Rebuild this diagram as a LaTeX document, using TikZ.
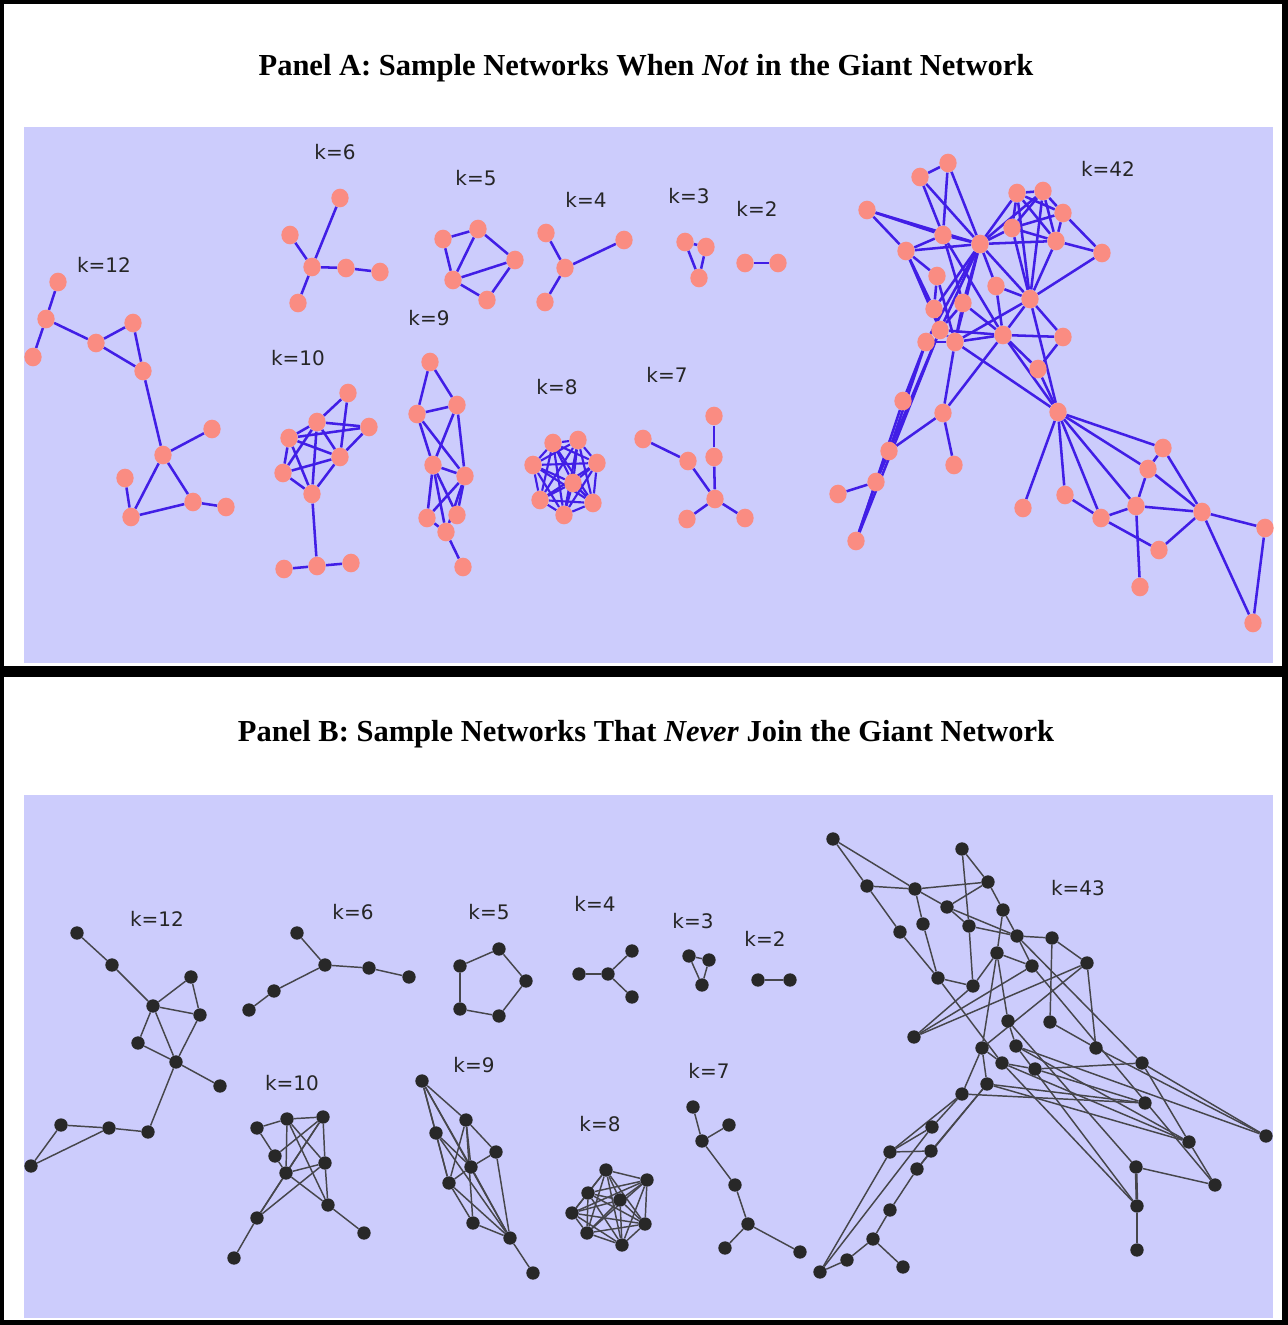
\documentclass[tikz,border=0pt]{standalone}
\usepackage{fontspec}
\setmainfont{Liberation Serif}
\newfontfamily\labfont{DejaVu Sans}
\usetikzlibrary{shapes.geometric}
\definecolor{lav}{RGB}{204,204,252}
\definecolor{nodeA}{RGB}{250,140,130}
\definecolor{edgeA}{RGB}{65,30,230}
\definecolor{nodeB}{RGB}{40,40,40}
\definecolor{edgeB}{RGB}{70,70,75}
\pgfdeclarelayer{bg}
\pgfdeclarelayer{edges}
\pgfsetlayers{bg,edges,main}
\tikzset{
  pa/.style={ellipse,fill=nodeA,inner sep=0,minimum width=13pt,minimum height=14pt},
  pb/.style={circle,fill=nodeB,inner sep=0,minimum size=10pt},
  ea/.style={draw=edgeA,line width=1.9pt},
  eb/.style={draw=edgeB,line width=1.1pt},
  klab/.style={font=\labfont\fontsize{15}{18}\selectfont,inner sep=0,text=black!85},
  ttl/.style={inner sep=0}
}
\begin{document}
\begin{tikzpicture}[x=0.75pt,y=-0.75pt]
\begin{pgfonlayer}{bg}
\fill[black] (0,0) rectangle (1288,1325);
\fill[white] (4,4) rectangle (1282,666);
\fill[white] (4,677) rectangle (1282,1320);
\fill[lav] (24,127) rectangle (1273,663);
\fill[lav] (24,795) rectangle (1273,1318);
\end{pgfonlayer}
\useasboundingbox (0,0) rectangle (1288,1325);

% titles
\node[ttl] (tA) at (646,68) {\resizebox{581pt}{!}{\bfseries Panel A: Sample Networks When \textit{Not} in the Giant Network}};
\node[ttl] (tB) at (646,734) {\resizebox{612pt}{!}{\bfseries Panel B: Sample Networks That \textit{Never} Join the Giant Network}};

% ---------------- Panel A ----------------
\node[klab] (lA12) at (104,265) {k=12};
\node[klab] (lA6) at (335,152) {k=6};
\node[klab] (lA5) at (476,178) {k=5};
\node[klab] (lA4) at (586,200) {k=4};
\node[klab] (lA3) at (689,196) {k=3};
\node[klab] (lA2) at (757,209) {k=2};
\node[klab] (lA10) at (298,358) {k=10};
\node[klab] (lA9) at (429,318) {k=9};
\node[klab] (lA8) at (557,387) {k=8};
\node[klab] (lA7) at (667,375) {k=7};
\node[klab] (lA42) at (1108,169) {k=42};

% k=12
\foreach \n/\x/\y in {a1/58/282,a2/46/319,a3/33/357,a4/96/343,a5/133/323,a6/143/371,a7/163/455,a8/212/429,a9/125/478,a10/131/517,a11/193/502,a12/226/507}
  \node[pa] (\n) at (\x,\y) {};
% k=6
\foreach \n/\x/\y in {b1/340/198,b2/290/235,b3/312/267,b4/346/268,b5/380/272,b6/298/303}
  \node[pa] (\n) at (\x,\y) {};
% k=5
\foreach \n/\x/\y in {c1/443/239,c2/478/229,c3/515/260,c4/453/280,c5/487/300}
  \node[pa] (\n) at (\x,\y) {};
% k=4
\foreach \n/\x/\y in {d1/546/233,d2/565/268,d3/624/240,d4/545/302}
  \node[pa] (\n) at (\x,\y) {};
% k=3, k=2
\foreach \n/\x/\y in {e1/685/242,e2/706/247,e3/699/278,f1/745/263,f2/778/263}
  \node[pa] (\n) at (\x,\y) {};
% k=10
\foreach \n/\x/\y in {g1/348/393,g2/317/422,g3/369/427,g4/289/438,g5/340/457,g6/283/473,g7/312/494,g8/284/569,g9/317/566,g10/351/563}
  \node[pa] (\n) at (\x,\y) {};
% k=9
\foreach \n/\x/\y in {h1/430/362,h2/417/414,h3/457/405,h4/433/465,h5/465/476,h6/427/518,h7/457/515,h8/446/532,h9/463/567}
  \node[pa] (\n) at (\x,\y) {};
% k=8
\foreach \n/\x/\y in {i1/553/443,i2/578/440,i3/533/465,i4/597/463,i5/573/483,i6/540/500,i7/593/503,i8/564/515}
  \node[pa] (\n) at (\x,\y) {};
% k=7
\foreach \n/\x/\y in {j1/643/439,j2/688/461,j3/714/416,j4/714/457,j5/715/499,j6/687/519,j7/745/518}
  \node[pa] (\n) at (\x,\y) {};
% k=42
\foreach \n/\x/\y in {n1/948/163,n2/920/177,n3/867/210,n4/1017/193,n5/1043/191,n6/1063/213,n7/1012/228,n8/943/235,n9/980/244,n10/1056/241,n11/1102/253,n12/906/251,n13/937/276,n14/996/286,n15/1030/299,n16/963/303,n17/934/309,n18/940/330,n19/926/342,n20/955/342,n21/1003/335,n22/1063/337,n23/1038/369,n24/903/401,n25/943/413,n26/1058/412,n27/889/451,n28/954/465,n29/1163/448,n30/1148/469,n31/876/482,n32/838/494,n33/1065/495,n34/1023/508,n35/1136/506,n36/1101/518,n37/1202/512,n38/1265/528,n39/1159/550,n40/856/541,n41/1140/587,n42/1253/623}
  \node[pa] (\n) at (\x,\y) {};

\begin{pgfonlayer}{edges}
\foreach \u/\v in {a1/a2,a2/a3,a2/a4,a4/a5,a4/a6,a5/a6,a6/a7,a7/a8,a7/a10,a7/a11,a9/a10,a10/a11,a11/a12,
  b1/b3,b2/b3,b3/b4,b4/b5,b3/b6,
  c1/c2,c1/c4,c2/c4,c2/c3,c4/c3,c4/c5,c5/c3,
  d1/d2,d2/d3,d2/d4,e1/e2,e1/e3,e2/e3,f1/f2,
  g1/g2,g1/g5,g2/g3,g2/g4,g2/g5,g2/g6,g2/g7,g3/g5,g3/g4,g4/g5,g4/g6,g4/g7,g5/g6,g5/g7,g6/g7,g7/g9,g8/g9,g9/g10,
  h1/h2,h1/h3,h2/h3,h2/h4,h2/h5,h3/h4,h3/h5,h4/h5,h4/h6,h4/h8,h5/h6,h5/h7,h5/h8,h6/h8,h4/h7,h8/h9,
  j1/j2,j2/j5,j3/j4,j4/j5,j5/j6,j5/j7,
  n1/n2,n1/n8,n1/n9,n2/n8,n2/n9,n3/n8,n3/n12,n3/n9,n8/n9,n8/n12,n9/n12,n12/n13,n12/n17,n12/n18,n8/n21,n8/n16,n9/n4,n9/n7,n9/n10,n9/n5,n9/n15,n9/n14,n9/n16,n9/n17,n9/n18,n9/n19,n9/n20,n4/n5,n4/n6,n4/n7,n4/n10,n5/n6,n5/n7,n5/n10,n6/n7,n6/n10,n7/n10,n4/n15,n5/n15,n7/n15,n10/n15,n6/n11,n10/n11,n11/n15,n14/n15,n14/n21,n15/n21,n15/n22,n15/n20,n16/n18,n16/n20,n16/n21,n17/n18,n18/n20,n18/n21,n19/n20,n20/n21,n21/n22,n13/n17,n13/n20,n19/n24,n24/n40,n18/n31,n18/n40,n19/n27,n27/n31,n31/n32,n31/n40,n20/n25,n25/n27,n25/n28,n21/n25,n20/n26,n21/n23,n21/n26,n22/n23,n15/n26,n23/n26,n26/n29,n26/n30,n26/n35,n26/n36,n26/n33,n26/n34,n29/n30,n29/n37,n30/n35,n30/n37,n35/n36,n35/n37,n35/n41,n36/n39,n33/n36,n39/n37,n37/n38,n37/n42,n38/n42}
  \draw[ea] (\u) -- (\v);
\foreach \i in {1,...,7}{
  \pgfmathtruncatemacro\s{\i+1}
  \foreach \j in {\s,...,8} \draw[ea,line width=1.6pt] (i\i) -- (i\j);
}
\end{pgfonlayer}

% ---------------- Panel B ----------------
\node[klab] (lB12) at (157,919) {k=12};
\node[klab] (lB6) at (353,912) {k=6};
\node[klab] (lB5) at (489,912) {k=5};
\node[klab] (lB4) at (595,904) {k=4};
\node[klab] (lB3) at (693,921) {k=3};
\node[klab] (lB2) at (765,939) {k=2};
\node[klab] (lB10) at (292,1083) {k=10};
\node[klab] (lB9) at (474,1065) {k=9};
\node[klab] (lB8) at (600,1124) {k=8};
\node[klab] (lB7) at (709,1071) {k=7};
\node[klab] (lB43) at (1078,888) {k=43};

\foreach \n/\x/\y in {p1/77/933,p2/112/965,p3/191/977,p4/153/1006,p5/200/1015,p6/138/1043,p7/176/1062,p8/220/1086,p9/148/1132,p10/109/1128,p11/61/1125,p12/31/1166,
  r1/297/933,r2/325/965,r3/369/968,r4/409/977,r5/274/991,r6/249/1010,
  s1/499/949,s2/460/966,s3/526/981,s4/460/1009,s5/499/1016,
  t1/632/951,t2/579/974,t3/608/974,t4/632/997,
  u1/689/956,u2/709/960,u3/702/985,o1/758/980,o2/790/980,
  q1/257/1128,q2/287/1119,q3/323/1117,q4/275/1156,q5/325/1163,q6/286/1173,q7/328/1205,q8/257/1218,q9/364/1233,q10/234/1258,
  v1/422/1081,v2/466/1120,v3/436/1133,v4/496/1152,v5/471/1167,v6/449/1183,v7/473/1223,v8/510/1238,v9/533/1273,
  w1/606/1170,w2/647/1180,w3/588/1193,w4/620/1200,w5/572/1213,w6/645/1224,w7/587/1233,w8/622/1245,
  x1/693/1107,x2/729/1125,x3/702/1141,x4/735/1185,x5/748/1224,x6/725/1248,x7/800/1252}
  \node[pb] (\n) at (\x,\y) {};
\foreach \n/\x/\y in {m1/833/839,m2/962/849,m3/867/886,m4/915/889,m5/988/882,m6/947/907,m7/1003/910,m8/923/924,m9/969/926,m10/900/932,m11/1017/936,m12/1052/938,m13/997/953,m14/1032/966,m15/1087/963,m16/938/978,m17/973/986,m18/1008/1021,m19/1050/1022,m20/914/1037,m21/982/1048,m22/1016/1046,m23/1096/1048,m24/1002/1063,m25/1035/1069,m26/1142/1063,m27/987/1084,m28/962/1094,m29/1145/1103,m30/932/1127,m31/1266/1136,m32/1189/1142,m33/890/1152,m34/931/1151,m35/917/1169,m36/1136/1167,m37/1215/1185,m38/890/1210,m39/1137/1206,m40/873/1239,m41/847/1260,m42/903/1267,m43/820/1272,m44/1137/1250}
  \node[pb] (\n) at (\x,\y) {};

\begin{pgfonlayer}{edges}
\foreach \u/\v in {p1/p2,p2/p4,p4/p3,p4/p5,p3/p5,p4/p6,p4/p7,p5/p7,p6/p7,p7/p8,p7/p9,p9/p10,p10/p11,p11/p12,p12/p10,
  r1/r2,r2/r3,r3/r4,r2/r5,r5/r6,
  s2/s1,s1/s3,s3/s5,s5/s4,s4/s2,
  t2/t3,t3/t1,t3/t4,u1/u2,u1/u3,u2/u3,o1/o2,
  q1/q2,q2/q3,q1/q4,q4/q6,q2/q6,q2/q7,q3/q6,q3/q5,q5/q7,q3/q4,q5/q6,q6/q7,q5/q8,q6/q8,q3/q8,q7/q9,q8/q10,q2/q5,
  v1/v2,v1/v3,v1/v5,v1/v6,v1/v8,v2/v4,v2/v5,v2/v6,v2/v7,v3/v5,v3/v6,v3/v8,v4/v5,v4/v8,v5/v6,v5/v8,v6/v7,v6/v8,v7/v8,v8/v9,
  x1/x3,x3/x2,x3/x4,x4/x5,x5/x6,x5/x7,
  m1/m3,m1/m4,m3/m4,m3/m10,m4/m5,m4/m6,m4/m8,m2/m9,m9/m17,m2/m5,m5/m6,m5/m7,m6/m9,m6/m11,m7/m11,m7/m13,m8/m16,m10/m16,m9/m11,m11/m12,m11/m14,m12/m19,m12/m15,m13/m14,m13/m17,m13/m18,m13/m21,m14/m20,m15/m20,m15/m23,m15/m21,m16/m17,m16/m24,m17/m20,m21/m27,m21/m28,m21/m24,m24/m25,m24/m32,m25/m26,m25/m29,m27/m29,m28/m29,m27/m32,m26/m31,m26/m32,m22/m31,m23/m31,m32/m37,m36/m37,m36/m39,m39/m44,m24/m39,m22/m39,m28/m30,m28/m33,m27/m34,m27/m35,m30/m33,m33/m34,m34/m35,m35/m38,m38/m40,m40/m42,m40/m41,m41/m43,m33/m43,m30/m43,m18/m22,m19/m23,m11/m26,m14/m37,m18/m36,m22/m32}
  \draw[eb] (\u) -- (\v);
\draw[eb,line width=2pt] (m36) -- (m39);
\draw[eb,line width=2pt] (m39) -- (m44);
\foreach \i in {1,...,7}{
  \pgfmathtruncatemacro\s{\i+1}
  \foreach \j in {\s,...,8} \draw[eb] (w\i) -- (w\j);
}
\end{pgfonlayer}
\end{tikzpicture}
\end{document}
